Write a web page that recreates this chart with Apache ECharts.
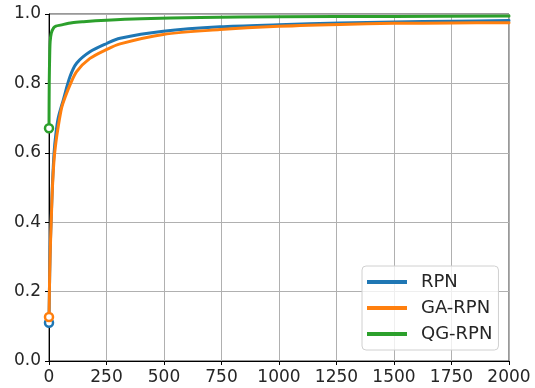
<!DOCTYPE html>
<html>
<head>
<meta charset="utf-8">
<script src="https://cdn.jsdelivr.net/npm/echarts@6/dist/echarts.min.js"></script>
<style>
  html, body { margin: 0; padding: 0; background: #fff; }
  #chart { width: 535px; height: 388px; }
</style>
</head>
<body>
<div id="chart"></div>
<script>
// 曲线数据 (x = 数量, y = 召回率)
var rpnX   = [0, 3, 6, 10, 15, 22, 30, 40, 62, 91, 120, 178, 251, 309, 497, 743, 1000, 1265, 1500, 1750, 2000];
var rpnY   = [0.11, 0.25, 0.34, 0.42, 0.51, 0.60, 0.655, 0.70, 0.752, 0.819, 0.858, 0.891, 0.915, 0.93, 0.95, 0.963, 0.969, 0.974, 0.977, 0.979, 0.981];
var gaX    = [0, 3, 6, 10, 15, 22, 30, 40, 55, 70, 91, 120, 178, 251, 309, 497, 743, 975, 1265, 1500, 1750, 2000];
var gaY    = [0.127, 0.25, 0.33, 0.41, 0.50, 0.58, 0.63, 0.675, 0.73, 0.76, 0.795, 0.834, 0.872, 0.898, 0.914, 0.941, 0.955, 0.964, 0.97, 0.973, 0.974, 0.975];
var qgX    = [0, 1, 3, 5, 10, 20, 30, 50, 100, 150, 250, 400, 657, 1000, 1500, 2000];
var qgY    = [0.671, 0.80, 0.88, 0.92, 0.945, 0.96, 0.965, 0.968, 0.975, 0.978, 0.982, 0.986, 0.99, 0.992, 0.993, 0.994];
var names  = ['RPN', 'GA-RPN', 'QG-RPN'];
var colors = ['#1f77b4', '#ff7f0e', '#2ca02c'];

function toPoints(xs, ys, color) {
    return xs.map(function(x, i) {
        if (i == 0) {
            // 只在起点画空心圆
            return {
                value: [x, ys[i]],
                symbol: 'circle',
                symbolSize: 8,
                itemStyle: { color: '#fff', borderColor: color, borderWidth: 2.5 }
            };
        }
        return [x, ys[i]];
    });
}

var chart = echarts.init(document.getElementById('chart'));
var font = 'DejaVu Sans';
var txt = '#262626';

var seriesList = [[rpnX, rpnY], [gaX, gaY], [qgX, qgY]].map(function(d, k) {
    return {
        name: names[k],
        type: 'line',
        data: toPoints(d[0], d[1], colors[k]),
        symbol: 'none',
        smooth: 0.3,
        lineStyle: { color: colors[k], width: 3, join: 'round', cap: 'round' },
        itemStyle: { color: colors[k] },
        animation: false
    };
});

chart.setOption({
    animation: false,
    color: colors,
    grid: {
        left: 49, right: 26, top: 14, bottom: 27,
        show: true, borderColor: '#333', borderWidth: 1
    },
    xAxis: {
        type: 'value',
        min: 0, max: 2000, interval: 250,
        axisLine: { show: true, lineStyle: { color: '#000', width: 1 } },
        axisTick: { show: true, inside: false, length: 4, lineStyle: { color: '#000' } },
        axisLabel: {
            margin: 8, fontFamily: font, fontSize: 17, color: txt,
            formatter: function(v) { return String(v); }
        },
        splitLine: { show: true, lineStyle: { color: '#b0b0b0', width: 1 } }
    },
    yAxis: {
        type: 'value',
        min: 0, max: 1, interval: 0.2,
        axisLine: { show: true, lineStyle: { color: '#000', width: 1 } },
        axisTick: { show: true, inside: false, length: 4, lineStyle: { color: '#000' } },
        axisLabel: {
            margin: 8, fontFamily: font, fontSize: 17, color: txt,
            formatter: function(v) { return v.toFixed(1); }
        },
        splitLine: { show: true, lineStyle: { color: '#b0b0b0', width: 1 } }
    },
    legend: {
        data: names.map(function(n, k) {
            return { name: n, icon: 'rect', itemStyle: { color: colors[k] } };
        }),
        orient: 'vertical',
        left: 362, top: 266,
        itemWidth: 40, itemHeight: 4,
        itemGap: 8,
        padding: [7, 6, 7, 5],
        backgroundColor: 'rgba(255,255,255,0.8)',
        borderColor: '#d0d0d0', borderWidth: 1, borderRadius: 4,
        textStyle: { fontFamily: font, fontSize: 18, color: txt, padding: [0, 0, 0, 9], lineHeight: 18 }
    },
    series: seriesList
});
</script>
</body>
</html>
